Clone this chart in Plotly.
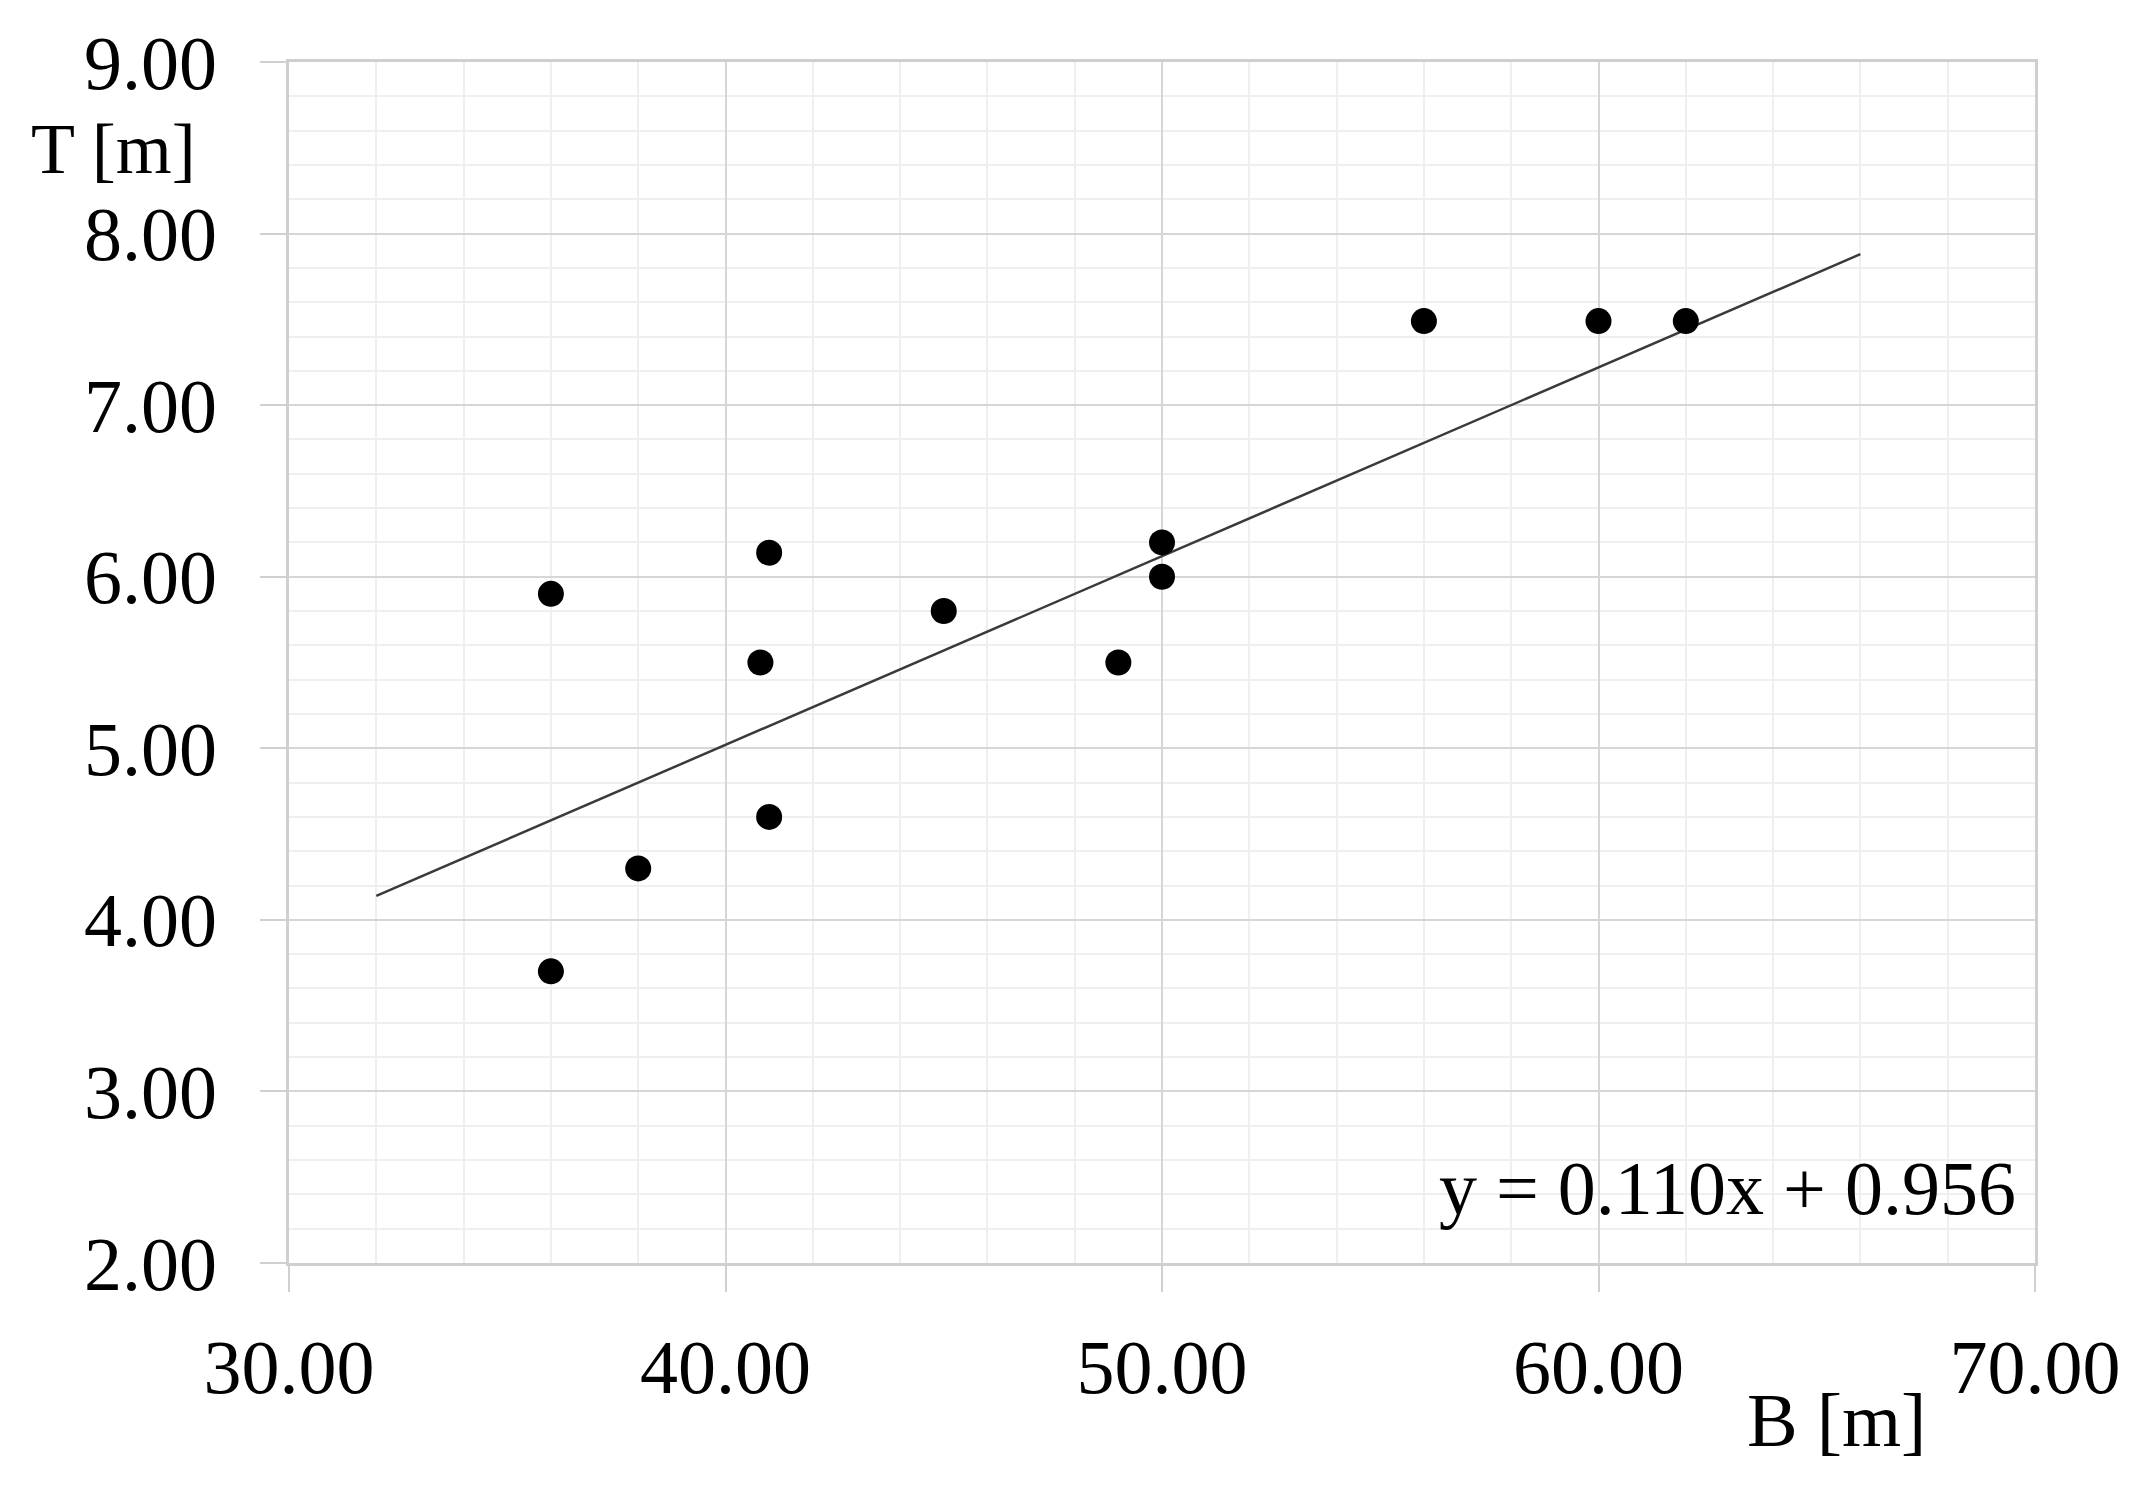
import plotly.graph_objects as go

# Data
B_m = [36.0, 36.0, 38.0, 41.0, 40.8, 41.0, 45.0, 49.0, 50.0, 50.0, 56.0, 60.0, 62.0]
T_m = [5.90, 3.70, 4.30, 6.14, 5.50, 4.60, 5.80, 5.50, 6.20, 6.00, 7.49, 7.49, 7.49]

# Trendline endpoints as drawn in the picture
trend_x = [32.0, 66.0]
trend_y = [4.14, 7.88]
equation_text = "y = 0.110x + 0.956"

x_ticks = [30, 40, 50, 60, 70]
y_ticks = [2, 3, 4, 5, 6, 7, 8, 9]

FONT = "Palatino Linotype, Book Antiqua, Palatino, Liberation Serif, serif"
FS = 76

fig = go.Figure()
fig.add_trace(go.Scatter(
    x=trend_x, y=trend_y, mode="lines",
    line=dict(color="#3a3a3a", width=2.5), showlegend=False, hoverinfo="skip"))
fig.add_trace(go.Scatter(
    x=B_m, y=T_m, mode="markers",
    marker=dict(color="black", size=26), showlegend=False))

# page body has an 8px margin; figure is sized to fit inside the window
OFF = 8
W, H = 2147 - 2 * OFF, 1495 - 2 * OFF
L, R, T, Bm = 289 - OFF, 112 - OFF, 62 - OFF, 232 - OFF
PW, PH = W - L - R, H - T - Bm


def px_x(xpix):
    return (xpix - OFF - L) / PW


def px_y(ypix):
    return (H - Bm - (ypix - OFF)) / PH


fig.update_layout(
    width=W, height=H,
    margin=dict(l=L, r=R, t=T, b=Bm),
    paper_bgcolor="white", plot_bgcolor="white",
    font=dict(family=FONT, size=FS, color="black"),
    xaxis=dict(
        range=[30, 70], tickvals=x_ticks, ticktext=[f"{v:.2f}" for v in x_ticks],
        ticks="outside", ticklen=26, tickwidth=1.5, tickcolor="#d0d0d0",
        showgrid=True, gridcolor="#d6d6d6", gridwidth=1.5,
        minor=dict(dtick=2, showgrid=True, gridcolor="#efefef", gridwidth=2, ticks=""),
        showline=True, linecolor="#cfcfcf", linewidth=2.5, mirror=True,
        zeroline=False, ticklabelstandoff=10,
        tickfont=dict(family=FONT, size=FS, color="black"),
    ),
    yaxis=dict(
        range=[2, 9], tickvals=y_ticks, ticktext=[f"{v:.2f}" for v in y_ticks],
        ticks="outside", ticklen=26, tickwidth=1.5, tickcolor="#d0d0d0",
        showgrid=True, gridcolor="#d6d6d6", gridwidth=1.5,
        minor=dict(dtick=0.2, showgrid=True, gridcolor="#efefef", gridwidth=2, ticks=""),
        showline=True, linecolor="#cfcfcf", linewidth=2.5, mirror=True,
        zeroline=False, ticklabelstandoff=28,
        tickfont=dict(family=FONT, size=FS, color="black"),
    ),
    annotations=[
        dict(text="T [m]", xref="paper", yref="paper",
             x=px_x(198), y=px_y(149),
             xanchor="right", yanchor="middle", showarrow=False,
             font=dict(family=FONT, size=72, color="black")),
        dict(text="B [m]", xref="paper", yref="paper",
             x=px_x(1836), y=px_y(1420),
             xanchor="center", yanchor="middle", showarrow=False,
             font=dict(family=FONT, size=FS, color="black")),
        dict(text=equation_text, xref="paper", yref="paper",
             x=px_x(2018), y=px_y(1188),
             xanchor="right", yanchor="middle", showarrow=False,
             font=dict(family=FONT, size=FS, color="black")),
    ],
)

fig.write_html("out.html")
